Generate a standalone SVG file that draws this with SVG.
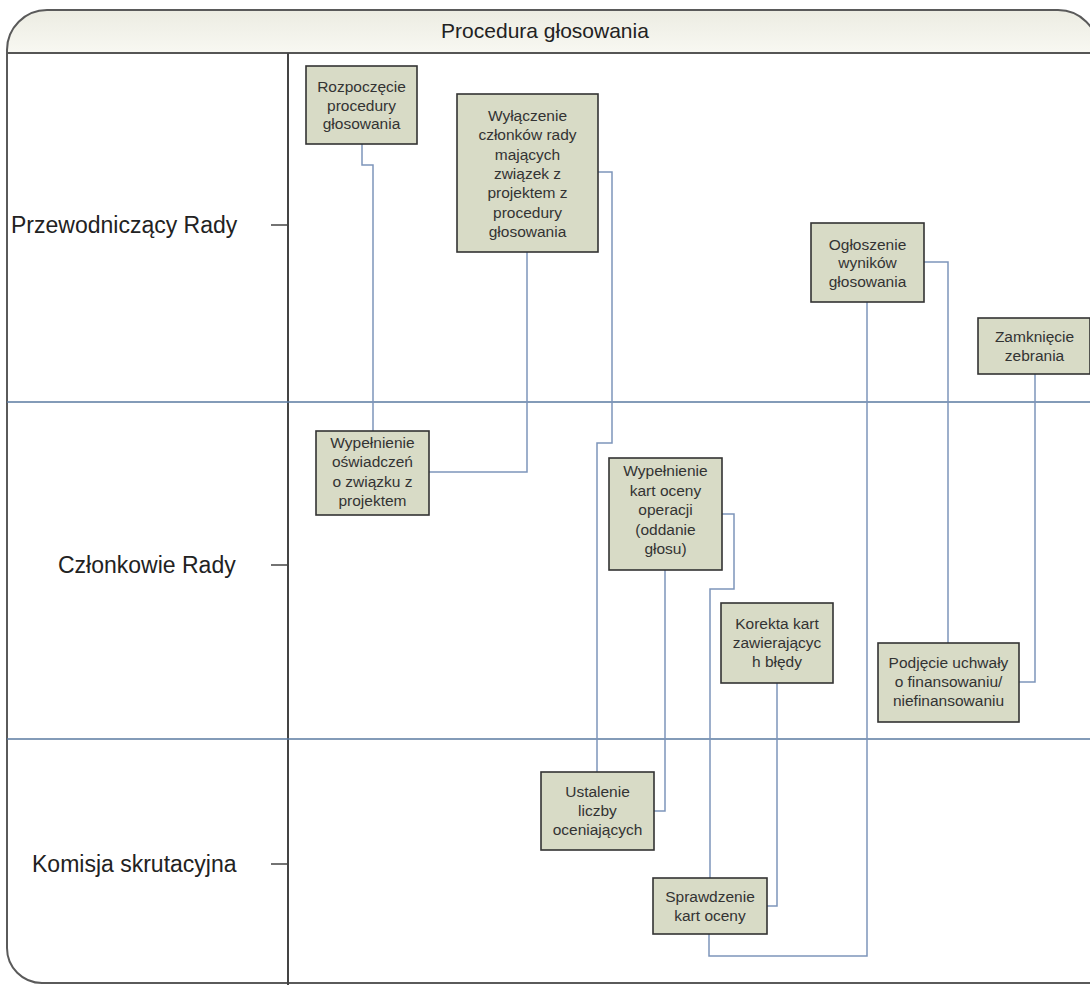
<svg xmlns="http://www.w3.org/2000/svg" width="1090" height="985" viewBox="0 0 1090 985">
<defs>
<linearGradient id="hdr" x1="0" y1="0" x2="0" y2="1">
<stop offset="0" stop-color="#ecece2"/>
<stop offset="1" stop-color="#f8f8f2"/>
</linearGradient>
<style>
.node rect{fill:#d8dbc6;stroke:#333333;stroke-width:1.6}
.node text{font-family:"Liberation Sans",Arial,sans-serif;font-size:15.5px;fill:#333333;text-anchor:middle}
.lane{font-family:"Liberation Sans",Arial,sans-serif;font-size:23px;fill:#222222}
.conn path{fill:none;stroke:#7d95bb;stroke-width:1.5}
.lanesep{stroke:#5a7aa0;stroke-width:1.5}
</style>
</defs>
<rect width="1090" height="985" fill="#ffffff"/>
<g id="frame">
<path d="M7,53 V50 A40,40 0 0 1 47,10 H1058 A40,40 0 0 1 1098,50 V53 Z" fill="url(#hdr)"/>
<path d="M1100,983 H42 A35,35 0 0 1 7,948 V50 A40,40 0 0 1 47,10 H1058 A40,40 0 0 1 1098,50" fill="none" stroke="#5a5a5a" stroke-width="2"/>
<line x1="7" y1="53" x2="1090" y2="53" stroke="#555555" stroke-width="2.2"/>
<text x="545" y="38" text-anchor="middle" font-family="Liberation Sans,Arial,sans-serif" font-size="21" fill="#222222">Procedura głosowania</text>
<line x1="288" y1="53" x2="288" y2="985" stroke="#444444" stroke-width="2"/>
<line class="lanesep" x1="7" y1="402" x2="1090" y2="402"/>
<line class="lanesep" x1="7" y1="739" x2="1090" y2="739"/>
<line x1="271" y1="225" x2="288" y2="225" stroke="#444444" stroke-width="1.5"/>
<line x1="271" y1="565" x2="288" y2="565" stroke="#444444" stroke-width="1.5"/>
<line x1="271" y1="864" x2="288" y2="864" stroke="#444444" stroke-width="1.5"/>
<text class="lane" x="11" y="233">Przewodniczący Rady</text>
<text class="lane" x="58" y="573">Członkowie Rady</text>
<text class="lane" x="32" y="872">Komisja skrutacyjna</text>
</g>
<g id="connectors" class="conn">
<path d="M362,144 V165 H373 V431"/>
<path d="M527,252 V472 H429"/>
<path d="M598,172 H612 V443 H597 V772"/>
<path d="M665,570 V811 H654"/>
<path d="M722,514 H734 V589 H710 V878"/>
<path d="M709,934 V956 H867 V302"/>
<path d="M777,683 V906 H767"/>
<path d="M924,262 H948 V643"/>
<path d="M1035,374 V682 H1019"/>
</g>
<g id="n1" class="node">
<rect x="306" y="66" width="111" height="78"/>
<text x="361.5" y="92">Rozpoczęcie</text>
<text x="361.5" y="110.5">procedury</text>
<text x="361.5" y="129">głosowania</text>
</g>
<g id="n2" class="node">
<rect x="457" y="94" width="141" height="158"/>
<text x="527.5" y="121">Wyłączenie</text>
<text x="527.5" y="140.3">członków rady</text>
<text x="527.5" y="159.6">mających</text>
<text x="527.5" y="178.9">związek z</text>
<text x="527.5" y="198.2">projektem z</text>
<text x="527.5" y="217.5">procedury</text>
<text x="527.5" y="236.8">głosowania</text>
</g>
<g id="n3" class="node">
<rect x="811" y="223" width="113" height="79"/>
<text x="867.5" y="249.5">Ogłoszenie</text>
<text x="867.5" y="268">wyników</text>
<text x="867.5" y="286.5">głosowania</text>
</g>
<g id="n4" class="node">
<rect x="978" y="318" width="112" height="56"/>
<text x="1034.5" y="342">Zamknięcie</text>
<text x="1034.5" y="360.5">zebrania</text>
</g>
<g id="n5" class="node">
<rect x="316" y="431" width="113" height="84"/>
<text x="372.5" y="447.5">Wypełnienie</text>
<text x="372.5" y="467">oświadczeń</text>
<text x="372.5" y="486.5">o związku z</text>
<text x="372.5" y="506">projektem</text>
</g>
<g id="n6" class="node">
<rect x="609" y="458" width="113" height="112"/>
<text x="665.5" y="476">Wypełnienie</text>
<text x="665.5" y="495.5">kart oceny</text>
<text x="665.5" y="515">operacji</text>
<text x="665.5" y="534.5">(oddanie</text>
<text x="665.5" y="554">głosu)</text>
</g>
<g id="n7" class="node">
<rect x="721" y="603" width="112" height="80"/>
<text x="777" y="629">Korekta kart</text>
<text x="777" y="648">zawierającyc</text>
<text x="777" y="667">h błędy</text>
</g>
<g id="n8" class="node">
<rect x="878" y="643" width="141" height="79"/>
<text x="948.5" y="668">Podjęcie uchwały</text>
<text x="948.5" y="687">o finansowaniu/</text>
<text x="948.5" y="706">niefinansowaniu</text>
</g>
<g id="n9" class="node">
<rect x="541" y="772" width="113" height="78"/>
<text x="597.5" y="797">Ustalenie</text>
<text x="597.5" y="816">liczby</text>
<text x="597.5" y="835">oceniających</text>
</g>
<g id="n10" class="node">
<rect x="653" y="878" width="114" height="56"/>
<text x="710" y="901.5">Sprawdzenie</text>
<text x="710" y="920.5">kart oceny</text>
</g>
</svg>
